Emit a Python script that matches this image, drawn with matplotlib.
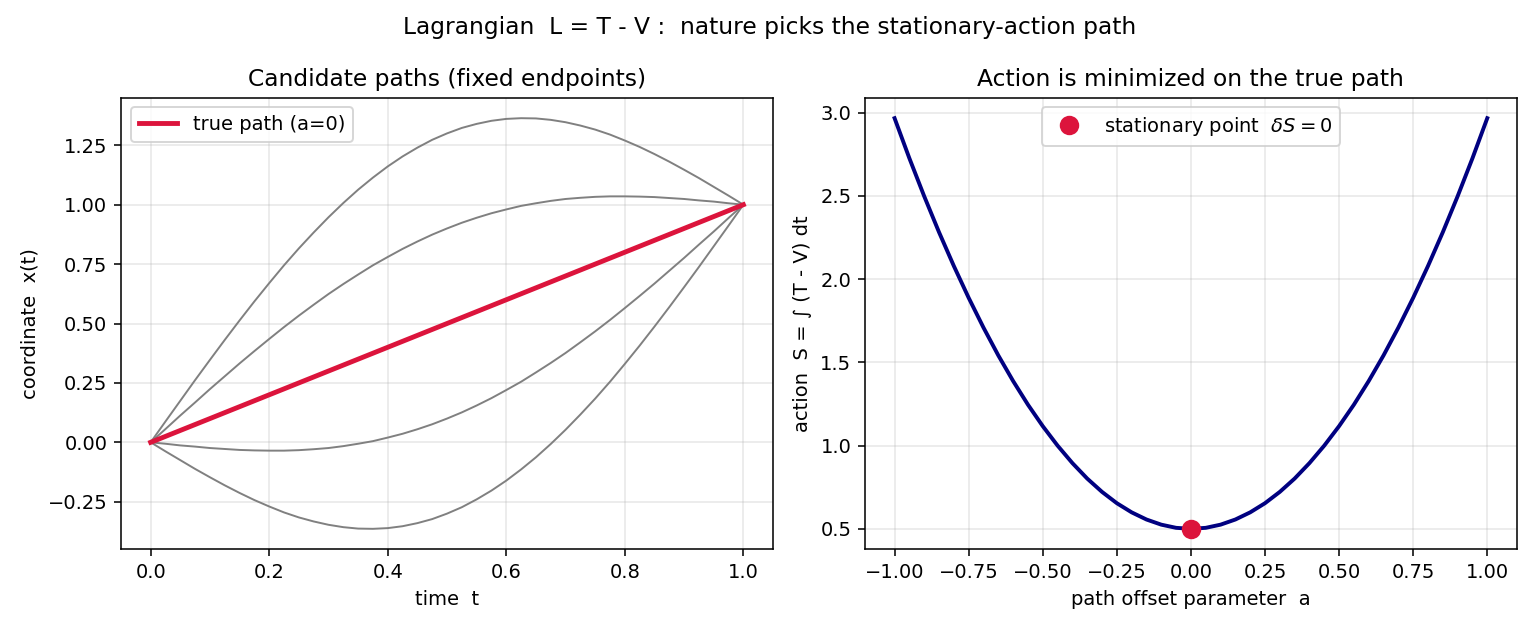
import numpy as np
import matplotlib
matplotlib.use("Agg")
import matplotlib.pyplot as plt

# time samples for the candidate paths
t = np.linspace(0.0, 1.0, 41)

# paths with offset a = +0.8, +0.4, -0.4, -0.8  (gray curves)
path_p08 = [0.0, 0.088, 0.175, 0.262, 0.347, 0.431, 0.513, 0.593, 0.670, 0.745, 0.816,
            0.883, 0.947, 1.007, 1.063, 1.114, 1.161, 1.203, 1.240, 1.273, 1.300,
            1.323, 1.340, 1.353, 1.361, 1.364, 1.363, 1.357, 1.347, 1.333, 1.316,
            1.295, 1.270, 1.243, 1.213, 1.181, 1.147, 1.112, 1.075, 1.038, 1.0]
path_p04 = [0.0, 0.056, 0.113, 0.168, 0.224, 0.278, 0.332, 0.384, 0.435, 0.485, 0.533,
            0.579, 0.624, 0.666, 0.706, 0.745, 0.780, 0.814, 0.845, 0.874, 0.900,
            0.924, 0.945, 0.964, 0.980, 0.995, 1.006, 1.016, 1.024, 1.029, 1.033,
            1.035, 1.035, 1.034, 1.032, 1.028, 1.024, 1.018, 1.013, 1.006, 1.0]
path_m04 = [0.0, -0.006, -0.013, -0.018, -0.024, -0.028, -0.032, -0.034, -0.035, -0.035, -0.033,
            -0.029, -0.024, -0.016, -0.006, 0.005, 0.020, 0.036, 0.055, 0.076, 0.100,
            0.126, 0.155, 0.186, 0.220, 0.255, 0.294, 0.334, 0.376, 0.421, 0.467,
            0.515, 0.565, 0.616, 0.668, 0.722, 0.776, 0.832, 0.887, 0.944, 1.0]
path_m08 = [0.0, -0.038, -0.075, -0.112, -0.147, -0.181, -0.213, -0.243, -0.270, -0.295, -0.316,
            -0.333, -0.347, -0.357, -0.363, -0.364, -0.361, -0.353, -0.340, -0.323, -0.300,
            -0.273, -0.240, -0.203, -0.161, -0.114, -0.063, -0.007, 0.053, 0.117, 0.184,
            0.255, 0.330, 0.407, 0.487, 0.569, 0.653, 0.738, 0.825, 0.912, 1.0]
# true path is the straight line between the fixed endpoints
true_t = [0.0, 1.0]
true_x = [0.0, 1.0]

# action vs offset parameter (right panel)
a_vals = np.linspace(-1.0, 1.0, 41)
half_S = [2.967, 2.726, 2.498, 2.282, 2.079, 1.888, 1.709, 1.542, 1.388, 1.246, 1.117,
          1.000, 0.895, 0.802, 0.722, 0.654, 0.599, 0.556, 0.525, 0.506]
action = half_S + [0.500] + half_S[::-1]
stat_a = [0.0]
stat_S = [0.5]

fig, (ax1, ax2) = plt.subplots(1, 2, figsize=(11, 4.5), dpi=140)
fig.subplots_adjust(left=0.0786, right=0.985, bottom=0.128, top=0.845, wspace=0.141)
fig.suptitle("Lagrangian  L = T - V :  nature picks the stationary-action path", fontsize=12, y=0.975)

# left: candidate paths
for p in [path_p08, path_p04, path_m04, path_m08]:
    ax1.plot(t, p, color="gray", lw=1)
ax1.plot(true_t, true_x, color="crimson", lw=2.5, label="true path (a=0)")
ax1.set_title("Candidate paths (fixed endpoints)")
ax1.set_xlabel("time  t")
ax1.set_ylabel("coordinate  x(t)")
ax1.set_yticks([-0.25, 0.0, 0.25, 0.5, 0.75, 1.0, 1.25])
ax1.grid(alpha=0.3)
ax1.legend(loc="upper left")

# right: action curve
ax2.plot(a_vals, action, color="navy", lw=2)
ax2.plot(stat_a, stat_S, "o", color="crimson", ms=9, ls="none",
         label=r"stationary point  $\delta S = 0$", zorder=5)
ax2.set_title("Action is minimized on the true path")
ax2.set_xlabel("path offset parameter  a")
ax2.set_ylabel("action  S = \u222b (T - V) dt")
ax2.set_xticks([-1.0, -0.75, -0.5, -0.25, 0.0, 0.25, 0.5, 0.75, 1.0])
ax2.grid(alpha=0.3)
ax2.legend(loc="upper center")

plt.savefig("out.png", dpi=140)
